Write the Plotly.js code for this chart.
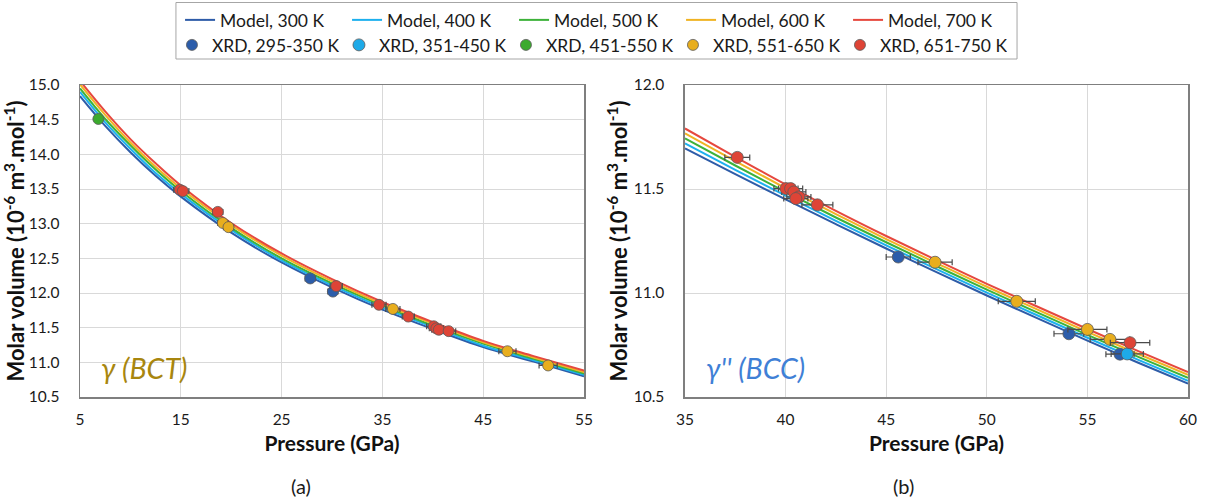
<!DOCTYPE html>
<html>
<head>
<meta charset="utf-8">
<script src="https://cdn.plot.ly/plotly-3.0.1.min.js"></script>
<style>html,body{margin:0;padding:0;background:#fff;}#chart{width:1207px;height:504px;}</style>
</head>
<body>
<div id="chart"></div>
<script>
// ---------------- DATA ----------------
const modelLabels = ['Model, 300 K', 'Model, 400 K', 'Model, 500 K', 'Model, 600 K', 'Model, 700 K'];
const xrdLabels = ['XRD, 295-350 K', 'XRD, 351-450 K', 'XRD, 451-550 K', 'XRD, 551-650 K', 'XRD, 651-750 K'];

// (a) gamma (BCT) model curves
const pA = [5, 7.5, 10, 12.5, 15, 20, 25, 30, 35, 40, 45, 50, 55];
const vA300 = [14.84, 14.41, 14.03, 13.69, 13.39, 12.87, 12.44, 12.08, 11.76, 11.48, 11.22, 11.01, 10.80];
const vA400 = [14.90, 14.46, 14.08, 13.73, 13.43, 12.91, 12.47, 12.11, 11.79, 11.51, 11.24, 11.03, 10.82];
const vA500 = [14.95, 14.51, 14.13, 13.78, 13.47, 12.94, 12.50, 12.14, 11.82, 11.53, 11.27, 11.05, 10.84];
const vA600 = [15.01, 14.57, 14.17, 13.82, 13.51, 12.98, 12.54, 12.17, 11.84, 11.56, 11.29, 11.07, 10.86];
const vA700 = [15.06, 14.62, 14.22, 13.87, 13.55, 13.01, 12.57, 12.20, 11.87, 11.58, 11.31, 11.09, 10.88];

// (b) gamma'' (BCC) model curves
const pB = [35, 37.5, 40, 42.5, 45, 47.5, 50, 52.5, 55, 57.5, 60];
const vB300 = [11.695, 11.571, 11.450, 11.331, 11.214, 11.100, 10.988, 10.879, 10.771, 10.666, 10.564];
const vB400 = [11.719, 11.592, 11.468, 11.347, 11.229, 11.115, 11.002, 10.893, 10.785, 10.680, 10.578];
const vB500 = [11.743, 11.613, 11.486, 11.363, 11.244, 11.129, 11.016, 10.907, 10.799, 10.694, 10.592];
const vB600 = [11.767, 11.634, 11.504, 11.379, 11.259, 11.144, 11.030, 10.921, 10.813, 10.708, 10.606];
const vB700 = [11.791, 11.655, 11.522, 11.395, 11.274, 11.158, 11.044, 10.935, 10.827, 10.722, 10.620];

// (a) XRD points: pressure, volume, pressure error
const xrdA1P = [27.84, 30.09];
const xrdA1V = [12.21, 12.02];
const xrdA1E = [0.5, 0.5];
const xrdA2P = [];
const xrdA2V = [];
const xrdA2E = [];
const xrdA3P = [6.82];
const xrdA3V = [14.51];
const xrdA3E = [0.3];
const xrdA4P = [19.17, 19.73, 36.04, 47.40, 51.44];
const xrdA4V = [13.01, 12.95, 11.77, 11.16, 10.955];
const xrdA4E = [0.5, 0.5, 0.7, 0.85, 0.9];
const xrdA5P = [14.90, 15.20, 18.67, 30.42, 34.66, 37.57, 40.09, 40.35, 40.60, 41.57];
const xrdA5V = [13.49, 13.47, 13.17, 12.10, 11.83, 11.66, 11.52, 11.49, 11.47, 11.45];
const xrdA5E = [0.6, 0.6, 0.5, 0.6, 0.7, 0.6, 0.7, 0.7, 0.7, 0.7];

// (b) XRD points
const xrdB1P = [45.60, 54.08, 56.62];
const xrdB1V = [11.173, 10.804, 10.706];
const xrdB1E = [0.6, 0.74, 0.7];
const xrdB2P = [56.98];
const xrdB2V = [10.707];
const xrdB2E = [0.8];
const xrdB3P = [];
const xrdB3V = [];
const xrdB3E = [];
const xrdB4P = [47.43, 51.49, 55.00, 56.12];
const xrdB4V = [11.148, 10.960, 10.825, 10.777];
const xrdB4E = [0.85, 0.92, 0.97, 0.98];
const xrdB5P = [37.60, 40.02, 40.25, 40.41, 40.66, 40.51, 41.58, 57.12];
const xrdB5V = [11.652, 11.502, 11.502, 11.486, 11.462, 11.454, 11.424, 10.761];
const xrdB5E = [0.62, 0.6, 0.6, 0.6, 0.6, 0.6, 0.77, 0.98];

// ---------------- STYLE ----------------
const lineColors = ['#2E5CA8', '#1DB0EE', '#3DB23A', '#F0B323', '#E6483E'];
const dotColors  = ['#2C5DAA', '#1EAAE8', '#3CAA2E', '#E8AE1E', '#DE4436'];
const FONT = 'Lato, "Open Sans", "Noto Sans", sans-serif';

const modelA = [vA300, vA400, vA500, vA600, vA700];
const modelB = [vB300, vB400, vB500, vB600, vB700];
const xrdA = [[xrdA1P, xrdA1V, xrdA1E], [xrdA2P, xrdA2V, xrdA2E], [xrdA3P, xrdA3V, xrdA3E], [xrdA4P, xrdA4V, xrdA4E], [xrdA5P, xrdA5V, xrdA5E]];
const xrdB = [[xrdB1P, xrdB1V, xrdB1E], [xrdB2P, xrdB2V, xrdB2E], [xrdB3P, xrdB3V, xrdB3E], [xrdB4P, xrdB4V, xrdB4E], [xrdB5P, xrdB5V, xrdB5E]];

const traces = [];
for (let i = 0; i < 5; i++) {
  traces.push({x: pA, y: modelA[i], type: 'scatter', mode: 'lines', line: {color: lineColors[i], width: 2, shape: 'spline'},
    name: modelLabels[i], legendgroup: 'm' + i, legend: 'legend', showlegend: true, xaxis: 'x', yaxis: 'y', hoverinfo: 'skip'});
  traces.push({x: pB, y: modelB[i], type: 'scatter', mode: 'lines', line: {color: lineColors[i], width: 2, shape: 'spline'},
    name: modelLabels[i], legendgroup: 'm' + i, legend: 'legend', showlegend: false, xaxis: 'x2', yaxis: 'y2', hoverinfo: 'skip'});
}
for (let i = 0; i < 5; i++) {
  const a = xrdA[i], b = xrdB[i];
  const legendOnA = a[0].length > 0;
  const mk = {color: dotColors[i], size: 11, line: {color: '#5a5a5a', width: 0.8}};
  const eb = (arr) => ({type: 'data', array: arr, visible: true, color: '#4a4a4a', thickness: 1.2, width: 3});
  traces.push({x: a[0], y: a[1], error_x: eb(a[2]), type: 'scatter', mode: 'markers', marker: mk,
    name: xrdLabels[i], legendgroup: 'x' + i, legend: 'legend2', showlegend: legendOnA, xaxis: 'x', yaxis: 'y'});
  traces.push({x: b[0], y: b[1], error_x: eb(b[2]), type: 'scatter', mode: 'markers', marker: Object.assign({}, mk, {size: 12}),
    name: xrdLabels[i], legendgroup: 'x' + i, legend: 'legend2', showlegend: !legendOnA, xaxis: 'x2', yaxis: 'y2'});
}

const yTitle = 'Molar volume (10<sup>-6</sup> m<sup>3</sup>.mol<sup>-1</sup>)';
const axisCommon = {
  showline: true, mirror: true, linecolor: '#7f7f7f', linewidth: 1.5,
  showgrid: true, gridcolor: '#d9d9d9', gridwidth: 1, zeroline: false,
  ticks: '', tickfont: {family: FONT, size: 15.5, color: '#1a1a1a'}
};
const xTitleFont = {family: FONT, size: 21, color: '#111'};
const yTitleFont = {family: FONT, size: 22, color: '#111'};
const legendFont = {family: FONT, size: 17.5, color: '#1a1a1a'};

const layout = {
  width: 1207, height: 504,
  paper_bgcolor: '#fff', plot_bgcolor: '#fff',
  margin: {l: 80, r: 19, t: 85, b: 107, autoexpand: false},
  font: {family: FONT, color: '#1a1a1a'},
  showlegend: true,
  xaxis: Object.assign({}, axisCommon, {domain: [0, 0.4549], range: [5, 55], tick0: 5, dtick: 10, ticklabelstandoff: 8,
    title: {text: '<b>Pressure (GPa)</b>', font: xTitleFont, standoff: 9}}),
  yaxis: Object.assign({}, axisCommon, {domain: [0, 1], range: [10.5, 15.0], dtick: 0.5, tickformat: '.1f', ticklabelstandoff: 16,
    title: {text: '<b>' + yTitle + '</b>', font: yTitleFont, standoff: 0}}),
  xaxis2: Object.assign({}, axisCommon, {domain: [0.546, 1], range: [35, 60], dtick: 5, anchor: 'y2', ticklabelstandoff: 8,
    title: {text: '<b>Pressure (GPa)</b>', font: xTitleFont, standoff: 9}}),
  yaxis2: Object.assign({}, axisCommon, {domain: [0, 1], range: [10.5, 12.0], dtick: 0.5, tickformat: '.1f', anchor: 'x2', ticklabelstandoff: 16,
    title: {text: '<b>' + yTitle + '</b>', font: yTitleFont, standoff: 0}}),
  legend: {orientation: 'h', x: 0.0903, xanchor: 'left', y: 1.2083, yanchor: 'middle', bgcolor: 'rgba(0,0,0,0)',
    font: legendFont, borderwidth: 0, itemwidth: 30, entrywidth: 122, entrywidthmode: 'pixels'},
  legend2: {orientation: 'h', x: 0.0830, xanchor: 'left', y: 1.1282, yanchor: 'middle', bgcolor: 'rgba(0,0,0,0)',
    font: legendFont, borderwidth: 0, itemwidth: 30, entrywidth: 122, entrywidthmode: 'pixels'},
  shapes: [
    {type: 'rect', xref: 'paper', yref: 'paper', x0: 0.0866, x1: 0.8457, y0: 1.0833, y1: 1.2644,
      line: {color: '#a6a6a6', width: 1}, fillcolor: 'rgba(0,0,0,0)', layer: 'below'}
  ],
  annotations: [
    {xref: 'x', yref: 'y', x: 6.92, y: 10.922, xanchor: 'left', yanchor: 'middle', showarrow: false,
      text: '<i>γ (BCT)</i>', font: {family: FONT, size: 28.5, color: '#A8860E'}},
    {xref: 'x2', yref: 'y2', x: 35.95, y: 10.6375, xanchor: 'left', yanchor: 'middle', showarrow: false,
      text: "<i>γ'' (BCC)</i>", font: {family: FONT, size: 28.5, color: '#3F80D6'}},
    {xref: 'paper', yref: 'paper', x: 0.1995, y: -0.2853, xanchor: 'center', yanchor: 'middle', showarrow: false,
      text: '(a)', font: {family: FONT, size: 20, color: '#1a1a1a'}},
    {xref: 'paper', yref: 'paper', x: 0.7432, y: -0.2853, xanchor: 'center', yanchor: 'middle', showarrow: false,
      text: '(b)', font: {family: FONT, size: 20, color: '#1a1a1a'}}
  ]
};

Plotly.newPlot('chart', traces, layout, {displayModeBar: false, staticPlot: true});
</script>
</body>
</html>
